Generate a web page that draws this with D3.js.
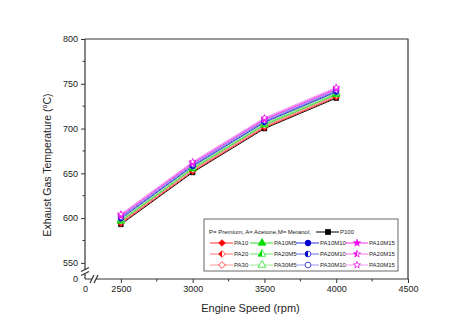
<!DOCTYPE html>
<html>
<head>
<meta charset="utf-8">
<script src="https://cdn.jsdelivr.net/npm/d3@7"></script>
<style>
  html, body { margin: 0; padding: 0; background: #fff; }
  svg { display: block; font-family: "Liberation Sans", Arial, sans-serif; }
</style>
</head>
<body>
<svg id="chart" width="474" height="335"></svg>
<script>
// Engine speeds (rpm) at which the exhaust gas temperature was measured
const speeds = [2500, 3000, 3500, 4000];

// Fuel blends: P = Premium, A = Acetone, M = Metanol
const seriesNames = [
  "P100",
  "PA10", "PA20", "PA30",
  "PA10M5", "PA20M5", "PA30M5",
  "PA10M10", "PA20M10", "PA30M10",
  "PA10M15", "PA20M15", "PA30M15"
];

// Exhaust gas temperature (°C) per blend, one value per engine speed
const P100    = [593.0, 651.0, 700.0, 734.0];
const PA10    = [594.0, 652.0, 701.0, 735.0];
const PA20    = [595.0, 653.0, 702.0, 736.0];
const PA30    = [596.0, 654.0, 703.0, 737.0];
const PA10M5  = [596.5, 655.0, 704.0, 738.0];
const PA20M5  = [597.5, 656.0, 705.0, 739.0];
const PA30M5  = [598.5, 657.0, 706.0, 740.0];
const PA10M10 = [599.5, 658.0, 707.0, 741.0];
const PA20M10 = [600.5, 659.0, 708.0, 742.0];
const PA30M10 = [601.5, 660.0, 709.0, 743.0];
const PA10M15 = [602.5, 661.0, 710.0, 744.0];
const PA20M15 = [603.5, 662.0, 711.0, 745.0];
const PA30M15 = [604.5, 663.0, 712.0, 746.0];

const xMajorTicks = [2500, 3000, 3500, 4000, 4500];
const xMinorTicks = [2750, 3250, 3750, 4250];
const yMajorTicks = [550, 600, 650, 700, 750, 800];
const yMinorTicks = [575, 625, 675, 725, 775];

const legendNote = "P= Premium, A= Acetone,M= Metanol,";

const values = {P100, PA10, PA20, PA30, PA10M5, PA20M5, PA30M5,
  PA10M10, PA20M10, PA30M10, PA10M15, PA20M15, PA30M15};

// Marker style per blend: colour, symbol, fill (full / half / open)
const style = {
  P100:    {color: "#000000", line: "#000000", sym: d3.symbolSquare,  fill: "full"},
  PA10:    {color: "#ff0000", line: "#ff3030", sym: "diamond",        fill: "full"},
  PA20:    {color: "#ff0000", line: "#ff7070", sym: "diamond",        fill: "half"},
  PA30:    {color: "#ff0000", line: "#ff9a9a", sym: "diamond",        fill: "open"},
  PA10M5:  {color: "#00dd00", line: "#30dd30", sym: d3.symbolTriangle, fill: "full"},
  PA20M5:  {color: "#00dd00", line: "#70e070", sym: d3.symbolTriangle, fill: "half"},
  PA30M5:  {color: "#00dd00", line: "#9ae89a", sym: d3.symbolTriangle, fill: "open"},
  PA10M10: {color: "#0000cc", line: "#3030dd", sym: d3.symbolCircle, fill: "full"},
  PA20M10: {color: "#0000cc", line: "#6a6ae0", sym: d3.symbolCircle, fill: "half"},
  PA30M10: {color: "#0000cc", line: "#9a9aee", sym: d3.symbolCircle, fill: "open"},
  PA10M15: {color: "#ee00ee", line: "#ee30ee", sym: d3.symbolStar,   fill: "full"},
  PA20M15: {color: "#ee00ee", line: "#f070f0", sym: d3.symbolStar,   fill: "half"},
  PA30M15: {color: "#ee00ee", line: "#f49af4", sym: d3.symbolStar,   fill: "open"}
};

const svg = d3.select("#chart");

// Plot frame; both axes are broken near the origin
const pLeft = 85, pRight = 408, pTop = 39, pBottom = 279;
const x = d3.scaleLinear().domain([2250, 4500]).range([pLeft, pRight]);
const y = d3.scaleLinear().domain([532, 800]).range([pBottom, pTop]);

const defs = svg.append("defs");
defs.append("clipPath").attr("id", "leftHalf")
  .append("rect").attr("x", -10).attr("y", -10).attr("width", 10).attr("height", 20);

function symbolPath(sym, size) {
  if (sym === "diamond") {
    const r = Math.sqrt(size) * 0.66;
    return `M0,${-r}L${r},0L0,${r}L${-r},0Z`;
  }
  const s = sym === d3.symbolStar ? size * 0.6 : size;
  return d3.symbol().type(sym).size(s)();
}

function drawMarker(g, st, size) {
  const d = symbolPath(st.sym, size);
  if (st.fill === "full") {
    g.append("path").attr("d", d).attr("fill", st.color).attr("stroke", st.color).attr("stroke-width", 0.7);
  } else if (st.fill === "half") {
    g.append("path").attr("d", d).attr("fill", "#fff");
    g.append("path").attr("d", d).attr("fill", st.color).attr("clip-path", "url(#leftHalf)");
    g.append("path").attr("d", d).attr("fill", "none").attr("stroke", st.color).attr("stroke-width", 0.7);
  } else {
    g.append("path").attr("d", d).attr("fill", "#fff").attr("stroke", st.color).attr("stroke-width", 0.7);
  }
}

// Frame (top and right edges)
svg.append("path")
  .attr("d", `M${pLeft},${pTop}H${pRight}V${pBottom}`)
  .attr("fill", "none").attr("stroke", "#333").attr("stroke-width", 1.2);

// Axes
const xAxis = d3.axisBottom(x)
  .tickValues([2250].concat(xMajorTicks))
  .tickFormat(v => v === 2250 ? "0" : String(v))
  .tickSize(4).tickPadding(3);
const gx = svg.append("g").attr("transform", `translate(0,${pBottom})`).call(xAxis);
gx.selectAll(".tick").filter(d => d === 2250).select("line").remove();
gx.append("g").selectAll("line").data(xMinorTicks).join("line")
  .attr("x1", d => x(d)).attr("x2", d => x(d)).attr("y1", 0).attr("y2", 2.5)
  .attr("stroke", "#333");

const yAxis = d3.axisLeft(y)
  .tickValues([532].concat(yMajorTicks))
  .tickFormat(v => v === 532 ? "0" : String(v))
  .tickSize(4).tickPadding(3);
const gy = svg.append("g").attr("transform", `translate(${pLeft},0)`).call(yAxis);
gy.selectAll(".tick").filter(d => d === 532).select("line").remove();
gy.append("g").selectAll("line").data(yMinorTicks).join("line")
  .attr("y1", d => y(d)).attr("y2", d => y(d)).attr("x1", 0).attr("x2", -2.5)
  .attr("stroke", "#333");

[gx, gy].forEach(g => {
  g.select(".domain").attr("stroke", "#333").attr("stroke-width", 1.2);
  g.selectAll(".tick line").attr("stroke", "#333");
  g.selectAll("text").attr("font-size", 9).attr("fill", "#222")
    .attr("font-family", "'Liberation Sans', Arial, sans-serif");
});
gx.selectAll(".domain").attr("d", `M${pLeft},0H${pRight}`);
gy.selectAll(".domain").attr("d", `M0,${pBottom}V${pTop}`);

// Axis break marks
const brk = svg.append("g").attr("stroke", "#333").attr("stroke-width", 1.2).attr("fill", "none");
const yb = 272;
brk.append("rect").attr("x", pLeft - 3).attr("y", yb - 2).attr("width", 6).attr("height", 4)
  .attr("fill", "#fff").attr("stroke", "none");
brk.append("line").attr("x1", pLeft - 4).attr("y1", yb - 0.5).attr("x2", pLeft + 4).attr("y2", yb - 4.5);
brk.append("line").attr("x1", pLeft - 4).attr("y1", yb + 3.5).attr("x2", pLeft + 4).attr("y2", yb - 0.5);
const xb = 94;
brk.append("rect").attr("x", xb - 2).attr("y", pBottom - 3).attr("width", 4).attr("height", 6)
  .attr("fill", "#fff").attr("stroke", "none");
brk.append("line").attr("x1", xb - 4).attr("y1", pBottom + 4).attr("x2", xb).attr("y2", pBottom - 4);
brk.append("line").attr("x1", xb).attr("y1", pBottom + 4).attr("x2", xb + 4).attr("y2", pBottom - 4);

// Axis titles
svg.append("text")
  .attr("x", (x(2250) + x(4500)) / 2 + 4).attr("y", 312)
  .attr("text-anchor", "middle").attr("font-size", 11).attr("fill", "#222")
  .text("Engine Speed (rpm)");

const yt = svg.append("text")
  .attr("transform", `translate(51,${(pTop + pBottom) / 2 + 6}) rotate(-90)`)
  .attr("text-anchor", "middle").attr("font-size", 10.5).attr("fill", "#222");
yt.append("tspan").text("Exhaust Gas Temperature (");
yt.append("tspan").attr("font-size", 7).attr("dy", -4).text("o");
yt.append("tspan").attr("dy", 4).text("C)");

// Series lines and markers
const line = d3.line().x((d, i) => x(speeds[i])).y(d => y(d));
const plot = svg.append("g");
seriesNames.forEach(name => {
  plot.append("path").datum(values[name]).attr("d", line)
    .attr("fill", "none").attr("stroke", style[name].line).attr("stroke-width", 1);
});
seriesNames.forEach(name => {
  values[name].forEach((v, i) => {
    const g = plot.append("g").attr("transform", `translate(${x(speeds[i])},${y(v)})`);
    drawMarker(g, style[name], 22);
  });
});

// Legend
const leg = svg.append("g");
leg.append("rect").attr("x", 204).attr("y", 219).attr("width", 194).attr("height", 52)
  .attr("fill", "#fff").attr("stroke", "#444").attr("stroke-width", 0.8);
leg.append("text").attr("x", 209).attr("y", 234).attr("font-size", 6).attr("fill", "#222")
  .text(legendNote);

function legendItem(name, cx, cy) {
  const st = style[name];
  leg.append("line").attr("x1", cx - 12).attr("x2", cx + 11).attr("y1", cy).attr("y2", cy)
    .attr("stroke", st.line).attr("stroke-width", 1);
  const g = leg.append("g").attr("transform", `translate(${cx},${cy})`);
  drawMarker(g, st, 26);
  leg.append("text").attr("x", cx + 12).attr("y", cy + 2).attr("font-size", 6).attr("fill", "#222")
    .text(name);
}

legendItem("P100", 328, 232);
const colX = [222, 262, 308, 357];
const rowY = [243, 254, 265];
const grid = [
  ["PA10", "PA10M5", "PA10M10", "PA10M15"],
  ["PA20", "PA20M5", "PA20M10", "PA20M15"],
  ["PA30", "PA30M5", "PA30M10", "PA30M15"]
];
grid.forEach((row, r) => row.forEach((name, c) => legendItem(name, colX[c], rowY[r])));
</script>
</body>
</html>
